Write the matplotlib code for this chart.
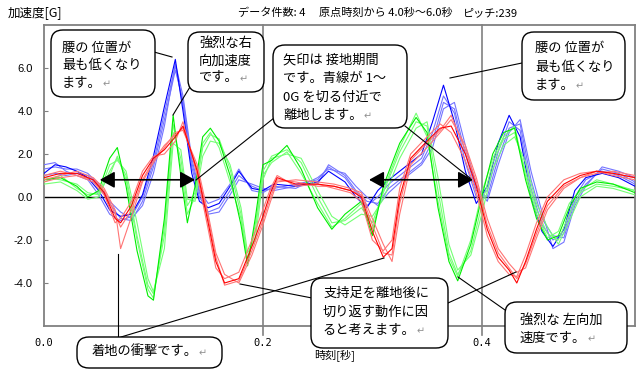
import matplotlib
matplotlib.use('Agg')
import matplotlib.pyplot as plt
from matplotlib.patches import FancyBboxPatch
from matplotlib.lines import Line2D
from matplotlib.transforms import Affine2D

# time [s] and acceleration [G], four records per axis (blue / green / red)
blue_t = [0.000, 0.010, 0.020, 0.030, 0.040, 0.050, 0.060, 0.070, 0.080, 0.090,
          0.100, 0.110, 0.120, 0.127, 0.135, 0.142, 0.150, 0.160, 0.170, 0.178,
          0.190, 0.200, 0.210, 0.230, 0.250, 0.260, 0.275, 0.285, 0.295, 0.305,
          0.315, 0.330, 0.345, 0.355, 0.365, 0.375, 0.385, 0.395, 0.405, 0.415,
          0.425, 0.435, 0.445, 0.455, 0.465, 0.475, 0.485, 0.495, 0.510, 0.525,
          0.540]
blue_1 = [1.1, 1.5, 1.4, 1.2, 0.9, 0.3, -0.6, -0.9, -0.8, 0.1,
          1.9, 4.2, 6.4, 4.0, 1.1, -0.2, -0.5, -0.3, 0.5, 1.2,
          0.4, 0.3, 0.6, 0.5, 0.7, 1.2, 0.7, 0.0, -0.5, 0.3,
          0.8, 1.4, 2.0, 3.5, 5.2, 3.5, 1.2, -0.3, 0.5, 2.5,
          3.8, 2.8, 0.0, -1.6, -2.3, -1.5, 0.3, 0.9, 1.1, 0.9,
          0.5]
blue_2 = [1.5, 1.6, 1.2, 1.0, 0.8, 0.1, -0.8, -1.1, -0.9, 0.0,
          1.6, 3.9, 6.1, 4.3, 1.4, 0.0, -0.7, -0.5, 0.3, 1.0,
          0.5, 0.3, 0.4, 0.6, 0.8, 1.4, 0.9, 0.2, -0.4, 0.0,
          0.6, 1.2, 1.8, 3.0, 4.7, 3.9, 1.6, 0.0, 0.3, 2.1,
          3.5, 3.1, 0.4, -1.3, -2.0, -1.7, 0.0, 0.8, 1.2, 1.0,
          0.6]
blue_3 = [1.0, 1.1, 1.0, 1.1, 1.0, 0.5, -0.3, -1.0, -1.1, -0.2,
          1.4, 3.6, 5.9, 4.5, 1.6, 0.2, -0.8, -0.7, 0.1, 0.8,
          0.6, 0.4, 0.3, 0.5, 0.6, 1.5, 1.0, 0.3, -0.2, -0.3,
          0.4, 1.0, 1.6, 2.6, 4.4, 4.1, 2.0, 0.3, 0.0, 1.8,
          3.2, 3.4, 0.8, -1.0, -1.8, -1.9, -0.2, 0.6, 1.3, 1.1,
          0.7]
blue_4 = [1.3, 1.4, 1.3, 1.3, 1.1, 0.6, -0.2, -0.7, -1.0, -0.4,
          1.1, 3.3, 6.2, 4.7, 1.8, 0.3, -0.3, -0.1, 0.6, 1.3,
          0.3, 0.2, 0.5, 0.4, 0.9, 1.3, 1.1, 0.5, 0.0, -0.4,
          0.2, 0.9, 1.5, 2.3, 4.1, 4.4, 2.4, 0.5, -0.2, 1.5,
          3.0, 3.6, 1.2, -0.7, -2.4, -2.1, -0.4, 0.5, 1.4, 1.2,
          0.9]

green_t = [0.000, 0.015, 0.030, 0.040, 0.050, 0.060, 0.067, 0.075, 0.085, 0.095,
           0.100, 0.110, 0.118, 0.125, 0.131, 0.138, 0.145, 0.152, 0.160, 0.170,
           0.180, 0.186, 0.193, 0.200, 0.208, 0.222, 0.235, 0.250, 0.263, 0.275,
           0.290, 0.300, 0.310, 0.325, 0.340, 0.350, 0.360, 0.370, 0.378, 0.390,
           0.400, 0.410, 0.420, 0.430, 0.440, 0.450, 0.460, 0.470, 0.480, 0.490,
           0.505, 0.520, 0.540]
green_1 = [0.8, 0.9, 0.5, 0.0, 0.3, 1.8, 2.3, 0.5, -2.5, -4.6,
           -4.8, -1.0, 3.8, 1.0, -1.2, 0.5, 2.8, 3.2, 2.6, 1.0,
           -1.3, -3.2, -1.0, 1.5, 1.7, 2.4, 1.3, -0.5, -1.5, -0.8,
           -0.2, -1.8, 0.5, 2.5, 3.7, 3.0, -0.5, -3.0, -3.9, -2.2,
           0.0, 2.0, 3.0, 3.2, 0.8, -1.0, -2.0, -1.8, -0.5, 0.4,
           0.7, 0.6, 0.2]
green_2 = [0.6, 0.7, 0.3, -0.1, 0.0, 1.2, 1.8, 1.0, -1.8, -4.1,
           -4.5, -1.8, 3.0, 1.8, -0.4, 0.2, 2.3, 2.9, 2.7, 1.3,
           -0.8, -2.9, -1.6, 1.2, 1.9, 2.2, 1.6, 0.0, -1.2, -1.1,
           -0.5, -1.2, 0.2, 2.1, 3.5, 3.3, 0.3, -2.6, -3.6, -2.5,
           -0.4, 1.6, 2.7, 3.0, 1.2, -0.6, -1.7, -2.0, -0.8, 0.2,
           0.6, 0.5, 0.3]
green_3 = [0.9, 0.8, 0.6, 0.2, 0.1, 1.5, 1.7, 1.2, -1.2, -3.8,
           -4.4, -2.4, 2.5, 2.2, -0.1, -0.2, 1.9, 2.6, 2.5, 1.5,
           -0.5, -2.6, -2.0, 0.8, 1.8, 2.0, 1.8, 0.3, -0.9, -1.3,
           -0.8, -0.9, -0.1, 1.8, 3.2, 3.5, 0.9, -2.2, -3.4, -2.7,
           -0.8, 1.3, 2.4, 2.8, 1.6, -0.3, -1.4, -2.2, -1.1, 0.0,
           0.5, 0.4, 0.1]
green_4 = [0.7, 1.0, 0.4, 0.1, 0.2, 1.0, 1.9, 0.8, -2.0, -4.3,
           -4.7, -1.4, 3.4, 1.4, -0.8, 0.0, 2.5, 3.0, 2.3, 0.7,
           -1.0, -3.0, -1.3, 1.0, 1.6, 2.1, 1.1, -0.3, -1.4, -1.0,
           -0.3, -1.5, 0.3, 2.3, 3.9, 2.8, -0.2, -2.8, -3.7, -2.0,
           0.2, 1.8, 2.8, 3.3, 1.0, -0.8, -1.9, -1.6, -0.3, 0.3,
           0.8, 0.6, 0.3]

red_t = [0.000, 0.015, 0.030, 0.045, 0.055, 0.065, 0.070, 0.080, 0.090, 0.100,
         0.110, 0.120, 0.127, 0.140, 0.150, 0.157, 0.165, 0.178, 0.190, 0.200,
         0.207, 0.213, 0.230, 0.250, 0.265, 0.280, 0.290, 0.300, 0.310, 0.318,
         0.325, 0.335, 0.350, 0.362, 0.372, 0.385, 0.395, 0.405, 0.415, 0.425,
         0.432, 0.440, 0.450, 0.460, 0.475, 0.490, 0.505, 0.520, 0.540]
red_1 = [0.9, 1.1, 1.1, 0.8, 0.2, -1.0, -1.2, -0.4, 1.0, 1.8,
         2.2, 2.8, 3.3, 1.2, -1.2, -3.0, -4.0, -3.8, -2.3, -0.9,
         0.2, 0.9, 0.6, 0.6, 0.5, 0.3, 0.0, -1.6, -2.8, -2.4,
         0.0, 1.8, 2.6, 3.2, 3.3, 2.0, 0.5, -1.5, -2.8, -3.4,
         -4.0, -3.0, -1.5, -0.2, 0.6, 1.0, 1.2, 1.1, 0.9]
red_2 = [0.8, 1.0, 1.2, 0.9, 0.4, -0.6, -2.4, -0.9, 0.7, 1.6,
         2.3, 3.0, 3.1, 1.5, -0.8, -2.6, -3.6, -4.0, -2.7, -1.3,
         -0.2, 0.7, 0.8, 0.7, 0.6, 0.4, 0.2, -1.0, -2.2, -3.0,
         -0.8, 1.5, 2.3, 3.0, 3.6, 2.4, 0.9, -1.0, -2.4, -3.1,
         -3.5, -3.3, -1.9, -0.6, 0.4, 0.9, 1.1, 1.2, 1.0]
red_3 = [1.0, 1.2, 1.0, 0.7, 0.1, -1.2, -1.0, -0.2, 1.2, 1.9,
         2.0, 2.6, 3.5, 1.0, -1.5, -3.3, -3.8, -3.5, -2.0, -0.6,
         0.4, 1.0, 0.5, 0.6, 0.4, 0.2, -0.2, -2.0, -2.5, -2.0,
         0.4, 2.0, 2.8, 3.4, 3.0, 1.7, 0.2, -1.8, -3.0, -3.6,
         -3.7, -2.7, -1.2, 0.0, 0.8, 1.1, 1.2, 1.0, 0.8]
red_4 = [0.7, 0.9, 1.0, 0.8, 0.3, -0.8, -1.4, -0.6, 0.8, 1.7,
         2.4, 2.9, 3.2, 1.3, -1.0, -2.8, -4.1, -3.9, -2.5, -1.1,
         0.0, 0.8, 0.7, 0.5, 0.5, 0.3, 0.1, -1.3, -2.6, -2.7,
         -0.3, 1.7, 2.5, 3.1, 3.8, 2.2, 0.7, -1.3, -2.6, -3.3,
         -3.8, -3.1, -1.7, -0.4, 0.5, 0.9, 1.2, 1.1, 0.9]

x_ticks = [0.0, 0.2, 0.4]
x_labels = ['0.0', '0.2', '0.4']
y_ticks = [6, 4, 2, 0, -2, -4]
y_labels = ['6.0', '4.0', '2.0', '0.0', '-2.0', '-4.0']

W, H = 641, 372
JP = ['Noto Sans CJK JP', 'DejaVu Sans']

fig = plt.figure(figsize=(W / 100, H / 100), dpi=100)
fig.patch.set_facecolor('white')
ax = fig.add_axes([44 / W, 46 / H, 591 / W, 301 / H])
# pixel coordinates measured from the top-left corner of the image
px = Affine2D().scale(1 / W, -1 / H).translate(0, 1) + fig.transFigure

series = [
    (blue_t, [blue_1, blue_2, blue_3, blue_4], '#0000ff', '#7474ff'),
    (green_t, [green_1, green_2, green_3, green_4], '#00ee00', '#74ff74'),
    (red_t, [red_1, red_2, red_3, red_4], '#ff0000', '#ff7474'),
]
for t, traces, dark, light in series:
    for i, vals in enumerate(traces[::-1]):
        ax.plot(t, vals, color=dark if i == len(traces) - 1 else light,
                lw=0.8, zorder=3)

ax.set_xlim(0, 0.54)
ax.set_ylim(-6, 8)
ax.axhline(0, color='black', lw=1.0, zorder=2)
for xv in (0.2, 0.4):
    ax.axvline(xv, ymin=-0.03, color='#808080', lw=1.2, clip_on=False, zorder=2)

ax.set_yticks(y_ticks)
ax.set_yticklabels(y_labels, fontfamily='Liberation Sans', fontsize=8)
ax.tick_params(axis='y', direction='in', length=3, pad=8, color='#808080')
ax.set_xticks(x_ticks)
ax.set_xticklabels(x_labels, fontfamily='DejaVu Sans Mono', fontsize=7.5)
ax.tick_params(axis='x', length=0, pad=9)
for s in ax.spines.values():
    s.set_color('#808080')
    s.set_linewidth(1.3)

# contact periods
for a, b in [(0.051, 0.138), (0.297, 0.392)]:
    ax.annotate('', xy=(b, 0.8), xytext=(a, 0.8),
                arrowprops=dict(arrowstyle='<|-|>,head_length=0.9,head_width=0.5',
                                mutation_scale=10, color='black', lw=1.2,
                                shrinkA=0, shrinkB=0), zorder=6)

# header and axis titles
fig.text(8, 13, '加速度[G]', transform=px, fontsize=9, family=JP, va='center')
fig.text(238, 13, 'データ件数: 4', transform=px, fontsize=8, family=JP, va='center')
fig.text(319, 13, '原点時刻から 4.0秒〜6.0秒', transform=px, fontsize=8, family=JP, va='center')
fig.text(463, 13, 'ピッチ:239', transform=px, fontsize=8, family=JP, va='center')
fig.text(314, 355, '時刻[秒]', transform=px, fontsize=8, family=JP, va='center', zorder=2)


def line(p, q):
    fig.add_artist(Line2D([p[0], q[0]], [p[1], q[1]], transform=px,
                          color='black', lw=0.8, zorder=4))


def callout(box, texts, left, rows):
    x0, y0, x1, y1 = box
    fig.add_artist(FancyBboxPatch((x0, y0), x1 - x0, y1 - y0,
                                  boxstyle='round,pad=0,rounding_size=12',
                                  transform=px, facecolor='white',
                                  edgecolor='black', lw=1.0, zorder=5))
    last = None
    for s, y in zip(texts, rows):
        last = fig.text(left, y, s, transform=px, ha='left', va='center',
                        fontsize=9.5, family=JP, zorder=6)
    return last, rows[-1]


line((154, 52), (172, 57))
line((193, 82), (173, 115))
line((274, 118), (196, 180))
line((405, 126), (470, 178))
line((522, 63), (450, 78))
line((118, 337), (118, 254))
line((121, 337), (384, 258))
line((312, 298), (240, 284))
line((448, 303), (516, 272))
line((505, 310), (458, 277))

ends = [
    callout((51, 30, 155, 97), ['腰の 位置が', '最も低くなり', 'ます。'], 62, [48, 65, 83]),
    callout((188, 32, 264, 92), ['強烈な右', '向加速度', 'です。'], 199, [43, 61, 78]),
    callout((273, 45, 407, 128), ['矢印は 接地期間', 'です。青線が 1～',
                                  '0G を切る付近で', '離地します。'], 283, [60, 78, 97, 115]),
    callout((522, 32, 625, 100), ['腰の 位置が', '最も低くなり', 'ます。'], 535, [48, 67, 85]),
    callout((77, 337, 222, 368), ['着地の衝撃です。'], 92, [352]),
    callout((311, 278, 448, 348), ['支持足を離地後に', '切り返す動作に因',
                                   'ると考えます。'], 323, [293, 312, 330]),
    callout((505, 302, 627, 353), ['強烈な 左向加', '速度です。'], 520, [320, 338]),
]

fig.canvas.draw()
renderer = fig.canvas.get_renderer()
for txt, y in ends:
    bb = txt.get_window_extent(renderer)
    fig.text(bb.x1 + 1, y + 1, '↵', transform=px, ha='left', va='center',
             fontsize=7, color='#909090', family=['DejaVu Sans'], zorder=6)

fig.savefig('out.png', dpi=100)
